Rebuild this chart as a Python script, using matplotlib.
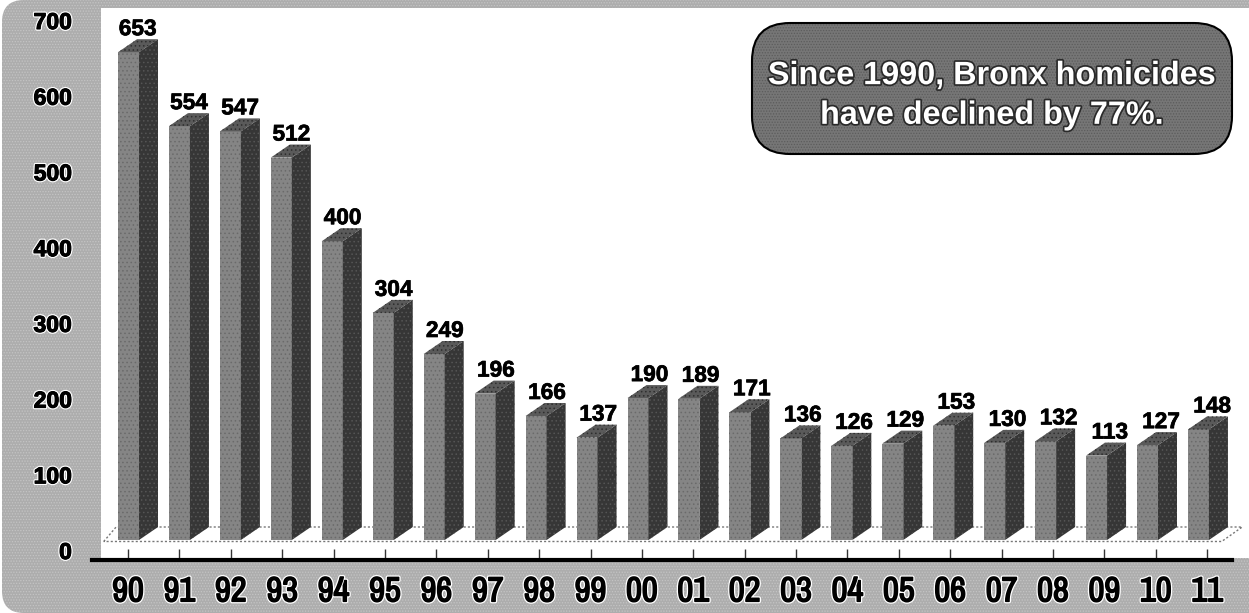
import matplotlib
matplotlib.use("Agg")
import matplotlib.pyplot as plt
import matplotlib.patheffects as pe
from matplotlib.patches import FancyBboxPatch
from matplotlib.transforms import IdentityTransform

years = ["90", "91", "92", "93", "94", "95", "96", "97", "98", "99", "00",
         "01", "02", "03", "04", "05", "06", "07", "08", "09", "10", "11"]
homicides = [653, 554, 547, 512, 400, 304, 249, 196, 166, 137, 190,
             189, 171, 136, 126, 129, 153, 130, 132, 113, 127, 148]
y_ticks = [0, 100, 200, 300, 400, 500, 600, 700]
note = "Since 1990, Bronx homicides\nhave declined by 77%."

W, H = 1249, 613
plt.rcParams["font.family"] = ["Liberation Sans", "DejaVu Sans"]
plt.rcParams["hatch.linewidth"] = 0.6

fig = plt.figure(figsize=(W / 100, H / 100), dpi=100, facecolor="white")

def box(x0, y_top, x1, y_bottom):
    # pixel box (y counted from the top) to figure fractions
    return [x0 / W, 1 - y_bottom / H, (x1 - x0) / W, (y_bottom - y_top) / H]

# gray panel behind everything
panel = FancyBboxPatch((20, 18), W + 60, H - 36, boxstyle="round,pad=18,rounding_size=22",
                       transform=IdentityTransform(), facecolor="#adadad", edgecolor="#c4c4c4",
                       hatch="......", linewidth=0, zorder=-1)
fig.add_artist(panel)

# bars live in their own axes, front plane scale
ax = fig.add_axes(box(101, 8, W, 558))
ax.set_facecolor("white")
step, per_unit = 50.95, 0.747
ax.set_xlim((101 - 118) / step, (W - 118) / step)
ax.set_ylim((540 - 558) / per_unit, (540 - 8) / per_unit)
for s in ax.spines.values():
    s.set_visible(False)
ax.set_xticks([])
ax.set_yticks([])

bar_w = 21 / step
dx, dy = 19 / step, 13 / per_unit
n = len(years)

# floor outline
ax.plot([-0.28, -dx * 0.1, n - 1 + bar_w + dx + 0.28, n - 1 + bar_w + 0.25, -0.28],
        [-2, dy, dy, -2, -2], color="#777777", lw=1, ls=(0, (1.5, 1.5)), zorder=1)

for i, v in enumerate(homicides):
    ax.bar(i, v, width=bar_w, align="edge", facecolor="#858585", edgecolor="#6a6a6a",
           hatch="....", linewidth=0, zorder=3)
    ax.fill([i + bar_w, i + bar_w + dx, i + bar_w + dx, i + bar_w],
            [0, dy, v + dy, v], facecolor="#363636", edgecolor="#555555",
            hatch="....", linewidth=0, zorder=3)
    ax.fill([i, i + bar_w, i + bar_w + dx, i + dx],
            [v, v, v + dy, v + dy], facecolor="#5a5a5a", edgecolor="#2e2e2e",
            hatch="....", linewidth=0, zorder=3)
    ax.text(i + 0.39 + i * 0.004, v + dy - 1 / per_unit, str(v), ha="center", va="bottom",
            fontsize=16.3, fontweight="bold", color="black", zorder=4,
            path_effects=[pe.withStroke(linewidth=0.5, foreground="black")])

# overlay axes carries the axis line, the ticks and the labels
ax2 = fig.add_axes(box(92, 20, 1232, 560))
ax2.patch.set_alpha(0)
ax2.set_xlim((92 - 128) / 51.39, (1232 - 128) / 51.39)
ax2.set_ylim((550 - 560) / 0.757, 700)
for side in ["top", "left", "right"]:
    ax2.spines[side].set_visible(False)
ax2.spines["bottom"].set_linewidth(3)
halo = [pe.withStroke(linewidth=2.5, foreground="white"),
        pe.withStroke(linewidth=0.8, foreground="black")]
ax2.set_yticks(y_ticks)
ax2.set_yticklabels(y_ticks, fontsize=16.5, fontweight="bold", path_effects=halo)
ax2.tick_params(axis="y", length=0, pad=14.5)
ax2.set_xticks(range(n))
ax2.set_xticklabels(years, fontsize=25, fontweight="bold",
                    path_effects=[pe.withStroke(linewidth=3, foreground="white"),
                                  pe.withStroke(linewidth=1.2, foreground="black")],
                    family=["Archivo Narrow", "Liberation Sans"])
ax2.tick_params(axis="x", direction="in", length=8, width=1, color="#333333", pad=11)

# callout
callout = FancyBboxPatch((752 + 38, H - 154 + 38), 480 - 76, 131 - 76,
                         boxstyle="round,pad=38,rounding_size=38",
                         transform=IdentityTransform(), facecolor="#767676", edgecolor="#5c5c5c",
                         hatch="......", linewidth=0, zorder=5)
fig.add_artist(callout)
outline = FancyBboxPatch((752 + 38, H - 154 + 38), 480 - 76, 131 - 76,
                         boxstyle="round,pad=38,rounding_size=38",
                         transform=IdentityTransform(), facecolor="none", edgecolor="black",
                         linewidth=1.5, zorder=5)
fig.add_artist(outline)
fig.text(992 / W, 1 - 96 / H, note, ha="center", va="center", fontsize=23.3, fontweight="bold",
         color="white", linespacing=1.42, zorder=6,
         path_effects=[pe.withStroke(linewidth=2.5, foreground="#2a2a2a")])

fig.savefig("out.png", dpi=100)
